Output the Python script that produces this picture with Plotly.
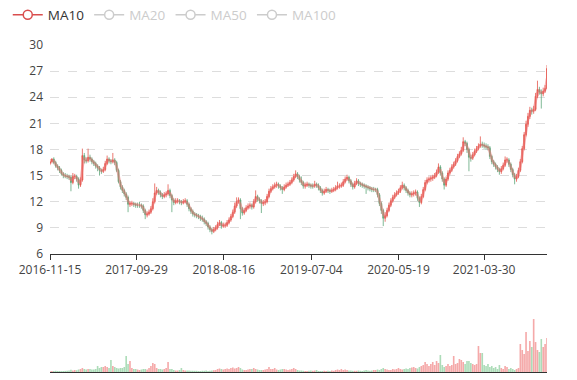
import pandas as pd
import plotly.graph_objects as go

START_DATE = "2016-11-15"
tick_labels = ["2016-11-15", "2017-09-29", "2018-08-16", "2019-07-04", "2020-05-19", "2021-03-30"]
y_ticks = [6, 9, 12, 15, 18, 21, 24, 27, 30]

close = [16.6,16.9,16.5,16.1,15.9,15.6,15.2,15.0,14.95,14.9,
         14.8,14.2,14.9,14.9,14.6,13.9,14.5,17.3,16.8,16.7,
         17.1,16.9,16.6,16.4,16.1,15.9,15.6,15.5,15.7,16.4,
         16.9,16.7,16.6,16.8,16.5,15.6,14.3,13.7,13.3,12.9,
         12.5,11.7,11.8,11.8,11.7,11.6,11.6,11.6,11.5,11.0,
         10.5,10.6,10.8,11.2,12.0,13.0,13.3,13.1,12.8,12.6,
         12.8,12.9,13.3,12.7,12.2,11.9,12.1,12.1,12.0,11.9,
         12.0,12.1,11.7,11.2,10.9,10.6,10.5,10.4,10.3,10.1,
         10.0,9.7,9.5,9.1,8.8,8.6,8.8,9.0,9.4,9.6,
         9.2,9.3,9.3,9.6,9.9,10.3,10.8,11.5,12.0,12.2,
         11.2,10.7,11.0,11.3,11.5,11.6,11.4,12.0,12.6,12.3,
         12.1,11.8,11.9,12.0,12.6,13.2,13.5,13.7,13.9,14.0,
         13.8,13.6,13.4,13.7,13.9,14.0,14.2,14.5,14.9,15.2,
         14.9,14.5,14.2,13.8,13.9,14.0,13.9,13.8,13.8,14.0,
         13.9,13.6,13.3,13.0,13.2,13.4,13.3,13.2,13.3,13.4,
         13.6,13.8,13.8,13.9,14.3,14.6,14.8,14.4,14.0,13.7,
         14.1,14.4,14.1,14.0,13.9,13.8,13.7,13.6,13.5,13.4,
         13.4,13.4,12.8,11.8,11.0,10.1,10.4,11.0,11.6,12.1,
         12.5,12.8,13.0,13.2,13.6,13.9,13.6,13.3,13.0,12.8,
         12.9,13.0,13.1,12.4,11.9,12.6,13.4,14.2,14.5,14.6,
         14.7,14.8,15.0,15.4,16.0,15.3,14.6,13.9,14.6,15.3,
         15.6,16.0,16.3,16.7,17.2,17.5,17.9,18.9,18.7,18.0,
         17.1,17.0,17.4,17.8,18.1,18.4,18.6,18.5,18.4,18.3,
         18.2,17.2,16.6,16.3,16.0,15.7,15.45,15.8,16.2,16.8,
         16.8,16.3,15.7,15.1,14.6,14.9,15.6,16.6,18.1,19.7,
         20.9,21.8,22.5,22.4,22.6,24.1,24.9,24.6,24.4,24.7,
         25.0,27.3]

open_ = [16.4,16.6,16.9,16.5,16.1,15.9,15.6,15.2,15.0,14.95,
         14.9,14.8,14.2,14.9,14.9,14.6,13.9,14.5,17.3,16.8,
         16.7,17.1,16.9,16.6,16.4,16.1,15.9,15.6,15.5,15.7,
         16.4,16.9,16.7,16.6,16.8,16.5,15.6,14.3,13.7,13.3,
         12.9,12.5,11.7,11.8,11.8,11.7,11.6,11.6,11.6,11.5,
         11.0,10.5,10.6,10.8,11.2,12.0,13.0,13.3,13.1,12.8,
         12.6,12.8,12.9,13.3,12.7,12.2,11.9,12.1,12.1,12.0,
         11.9,12.0,12.1,11.7,11.2,10.9,10.6,10.5,10.4,10.3,
         10.1,10.0,9.7,9.5,9.1,8.8,8.6,8.8,9.0,9.4,
         9.6,9.2,9.3,9.3,9.6,9.9,10.3,10.8,11.5,12.0,
         12.2,11.2,10.7,11.0,11.3,11.5,11.6,11.4,12.0,12.6,
         12.3,12.1,11.8,11.9,12.0,12.6,13.2,13.5,13.7,13.9,
         14.0,13.8,13.6,13.4,13.7,13.9,14.0,14.2,14.5,14.9,
         15.2,14.9,14.5,14.2,13.8,13.9,14.0,13.9,13.8,13.8,
         14.0,13.9,13.6,13.3,13.0,13.2,13.4,13.3,13.2,13.3,
         13.4,13.6,13.8,13.8,13.9,14.3,14.6,14.8,14.4,14.0,
         13.7,14.1,14.4,14.1,14.0,13.9,13.8,13.7,13.6,13.5,
         13.4,13.4,13.4,12.8,11.8,11.0,10.1,10.4,11.0,11.6,
         12.1,12.5,12.8,13.0,13.2,13.6,13.9,13.6,13.3,13.0,
         12.8,12.9,13.0,13.1,12.4,11.9,12.6,13.4,14.2,14.5,
         14.6,14.7,14.8,15.0,15.4,16.0,15.3,14.6,13.9,14.6,
         15.3,15.6,16.0,16.3,16.7,17.2,17.5,17.9,18.9,18.7,
         18.0,17.1,17.0,17.4,17.8,18.1,18.4,18.6,18.5,18.4,
         18.3,18.2,17.2,16.6,16.3,16.0,15.7,15.45,15.8,16.2,
         16.8,16.8,16.3,15.7,15.1,14.6,14.9,15.6,16.6,18.1,
         19.7,20.9,21.8,22.5,22.4,22.6,24.1,24.9,24.6,24.4,
         24.7,25.0]

high = [16.9,17.0,17.1,16.7,16.3,16.1,15.8,15.4,15.3,15.2,
        15.1,15.0,15.3,15.2,15.1,14.8,14.8,18.1,17.6,17.1,
        18.1,17.4,17.1,16.8,16.6,16.3,16.1,15.8,16.0,16.7,
        17.3,17.1,16.9,17.6,17.0,16.7,15.8,14.5,13.9,13.5,
        13.1,12.7,12.0,12.1,12.0,11.9,11.9,12.0,11.8,11.7,
        11.2,10.9,11.1,11.5,12.4,14.1,13.7,13.5,13.3,13.0,
        13.1,13.2,14.0,13.5,12.9,12.4,12.4,12.4,12.3,12.2,
        12.3,12.4,12.3,11.9,11.4,11.1,10.8,10.7,10.6,10.5,
        10.4,10.2,9.9,9.7,9.3,9.0,9.1,9.3,9.7,9.9,
        9.8,9.6,9.6,9.9,10.2,10.6,11.1,11.9,12.5,12.5,
        12.4,11.4,11.3,11.6,11.8,11.9,11.8,12.3,13.3,12.8,
        12.5,12.3,12.2,12.3,12.9,13.5,13.8,14.0,14.2,14.3,
        14.2,14.0,13.8,14.0,14.2,14.3,14.5,14.8,15.2,15.6,
        15.4,15.1,14.9,14.4,14.2,14.3,14.2,14.1,14.1,14.4,
        14.2,14.1,13.8,13.5,13.5,13.7,13.6,13.5,13.6,13.7,
        13.9,14.3,14.1,14.2,14.6,14.9,15.1,15.0,14.6,14.2,
        14.4,14.7,14.6,14.3,14.2,14.1,14.0,13.9,13.8,13.7,
        13.7,13.6,13.6,13.0,12.0,11.2,10.8,11.3,11.9,12.4,
        12.8,13.1,13.3,13.5,13.9,14.3,14.1,13.8,13.5,13.2,
        13.2,13.3,13.4,13.3,12.6,12.9,13.7,14.5,14.8,14.9,
        15.0,15.1,15.3,15.7,16.4,16.2,15.5,14.8,14.9,15.6,
        15.9,16.3,16.6,17.0,17.5,17.8,18.3,19.4,19.1,18.9,
        18.2,17.4,17.7,18.1,18.4,18.7,19.5,18.9,18.8,18.7,
        18.6,18.4,17.4,16.8,16.5,16.2,15.9,16.1,16.5,17.2,
        17.1,17.0,16.5,15.9,15.3,15.2,15.9,16.9,18.4,20.0,
        21.3,22.2,22.9,22.8,23.0,24.5,25.9,25.2,24.9,25.1,
        25.4,27.7]

low = [16.2,16.4,16.3,15.9,15.6,15.3,15.0,14.7,14.7,14.6,
       14.5,13.2,14.0,14.6,14.3,13.5,13.7,14.3,16.4,16.4,
       16.5,16.6,16.3,16.1,15.8,15.5,15.0,15.2,15.3,15.5,
       16.2,16.4,16.3,16.4,16.2,15.4,14.1,13.4,13.0,12.6,
       12.2,10.8,11.4,11.5,11.4,11.3,11.3,11.3,11.2,10.7,
       10.0,10.2,10.4,10.6,11.0,11.8,12.8,12.8,12.5,12.3,
       12.4,12.5,12.7,12.4,10.8,11.6,11.7,11.8,11.7,11.6,
       11.7,11.8,11.4,10.9,10.6,10.3,10.2,10.1,10.0,9.8,
       9.7,9.4,9.2,8.8,8.5,8.25,8.4,8.6,8.8,9.2,
       8.9,9.0,9.0,9.1,9.4,9.7,10.1,10.6,11.3,11.8,
       10.0,10.4,10.5,10.8,11.1,11.2,11.1,11.2,11.8,12.0,
       11.8,10.7,11.5,11.6,11.8,12.4,13.0,13.3,13.5,13.6,
       13.5,13.3,12.9,13.2,13.5,13.7,13.8,14.0,14.3,14.7,
       14.6,14.2,13.9,13.5,13.5,13.7,13.6,13.5,13.5,13.6,
       13.6,13.3,13.0,12.7,12.8,13.0,13.0,12.9,13.0,13.1,
       13.2,13.4,13.5,13.6,13.7,14.1,14.4,14.1,13.7,13.4,
       13.5,13.9,13.8,13.7,13.6,13.5,12.9,13.3,13.2,13.1,
       13.1,13.1,12.5,11.5,10.6,9.2,9.7,10.2,10.8,11.4,
       11.9,12.3,12.6,12.8,13.0,13.4,13.3,13.0,12.7,12.5,
       12.5,12.6,12.7,12.1,11.4,11.7,12.4,13.2,14.0,14.2,
       14.3,14.4,14.6,14.8,15.2,15.0,14.3,13.4,13.7,14.4,
       15.1,15.4,15.8,16.1,16.5,17.0,17.3,17.7,18.4,17.6,
       15.5,16.6,16.8,17.2,17.6,17.9,18.2,18.2,18.1,18.0,
       17.9,16.9,16.3,16.0,15.7,15.4,15.1,15.2,15.6,16.0,
       16.5,16.0,15.4,14.8,14.0,14.3,14.7,15.4,16.4,17.9,
       19.5,20.6,21.5,22.0,22.1,22.4,23.9,24.3,22.7,24.1,
       24.5,24.9]

volume = [0.8,0.9,1,1.2,1,1,0.9,1,1.1,1.3,
          1.5,2.3,1.5,2,1.8,2.5,3,4,3,2.5,
          3,3,2.5,2.5,3,6,4,5,5,6,
          5,4,12,6,5,4,3.5,4,4,5,
          16,8,11,4,3,3,2.5,2,2.5,3,
          3,2.5,4,6,9,8,4,3,3,2.5,
          3,4,10,3,3,2,1.5,1.5,2,4,
          2,1.5,1.5,1.5,1.2,1.2,1.2,1.2,1,1,
          1.2,1.2,1.5,1,1.3,1.5,1.8,2,3,3.5,
          3,2.5,3,3.5,3,4,4.5,3.5,4,5,
          4,2.5,2,2,2.5,3,3,4,3,2.5,
          2,2,2,2.5,3,5,3,3,4,2.5,
          2,2.5,3,3,2.5,2,2.5,3,4,3,
          2,1.5,1.5,1.2,1,1,1.2,1.5,1.2,1.5,
          2,1,1,1,1.2,1,1.2,1,1.5,1.2,
          2,2.5,2,3,2,2.5,2,1.5,1.5,1.2,
          1.2,1.2,1.5,1.2,1,1.5,2,1.5,1.2,1.5,
          2,2,2.5,2,3,4,3,2.5,2,2,
          3,2.5,3,4,3,2.5,3,3.5,3,4,
          4.5,5,4,3.5,5,6,7,10,8,6,
          8,10,7,11,9,17,7,5,6,8,
          6,7,16,8,9,13,12,10,8,11,
          11,9,8,7,8,26,19,19,7,6,
          8,5,6,4,5,3,7,4,3,6,
          5,3,4,3,2,3,4,28,22,18,
          40,21,31,25,53,30,22,20,33,25,
          28,34]

UP = "#e5574c"
DOWN = "#5fa77b"

dates = pd.date_range(START_DATE, periods=len(close), freq="7D")
s_close = pd.Series(close)
ma10 = s_close.rolling(2).mean()   # ~10 trading days (2 weekly points)

vol_colors = ["rgba(235,84,84,0.5)" if c >= o else "rgba(71,178,98,0.45)"
              for o, c in zip(open_, close)]

fig = go.Figure()
fig.add_trace(go.Candlestick(
    x=dates, open=open_, high=high, low=low, close=close,
    increasing=dict(line=dict(color=UP, width=0.8), fillcolor=UP),
    decreasing=dict(line=dict(color=DOWN, width=0.8), fillcolor=DOWN),
    whiskerwidth=0, showlegend=False, xaxis="x", yaxis="y", hoverinfo="skip"))
fig.add_trace(go.Scatter(
    x=dates, y=ma10, mode="lines", line=dict(color="rgba(235,110,110,0.5)", width=2.5),
    showlegend=False, xaxis="x", yaxis="y", hoverinfo="skip"))
fig.add_trace(go.Bar(
    x=dates, y=volume, marker=dict(color=vol_colors, line=dict(width=0)),
    showlegend=False, xaxis="x2", yaxis="y2", hoverinfo="skip"))

legend_items = [("MA10", "#d94e4e", "#333333"), ("MA20", "#cccccc", "#cccccc"),
                ("MA50", "#cccccc", "#cccccc"), ("MA100", "#cccccc", "#cccccc")]
for name, col, tcol in legend_items:
    fig.add_trace(go.Scatter(
        x=[None], y=[None], mode="lines+markers",
        name=f"<span style='color:{tcol}'>{name}</span>",
        line=dict(color=col, width=1.5),
        marker=dict(symbol="circle", size=9, color="white", line=dict(color=col, width=1.5)),
        xaxis="x", yaxis="y"))

# The page body adds an 8 px offset; margins compensate for it.
x_range = [dates[0], dates[-1]]
fig.update_layout(
    width=577, height=380,
    margin=dict(l=42, r=38, t=37, b=16, autoexpand=False),
    paper_bgcolor="white", plot_bgcolor="white",
    font=dict(family="Open Sans, sans-serif", size=12, color="#555"),
    bargap=0.15,
    showlegend=True,
    legend=dict(orientation="h", x=-0.085, xanchor="left", y=1.092, yanchor="middle",
                font=dict(size=13.5, color="#333"), itemwidth=30,
                itemclick=False, itemdoubleclick=False, bgcolor="rgba(0,0,0,0)"),
    xaxis=dict(type="date", domain=[0, 1], anchor="y", range=x_range,
               tickvals=tick_labels, ticktext=tick_labels,
               showgrid=False, showline=True, linecolor="#333", linewidth=1,
               ticks="outside", ticklen=5, tickcolor="#333", automargin=False,
               rangeslider=dict(visible=False), zeroline=False,
               tickfont=dict(size=12, color="#444")),
    yaxis=dict(domain=[0.361, 1], range=[6, 30], tickvals=y_ticks,
               showgrid=True, gridcolor="#dddddd", griddash="dash", gridwidth=1,
               showline=False, zeroline=False, ticks="", automargin=False,
               tickfont=dict(size=12, color="#444"), ticklabelstandoff=6),
    xaxis2=dict(type="date", domain=[0, 1], anchor="y2", range=x_range, matches="x",
                showticklabels=False, showgrid=False, showline=True, linecolor="#333",
                linewidth=1, ticks="", zeroline=False),
    yaxis2=dict(domain=[0, 0.22], range=[0, 72], showticklabels=False,
                showgrid=False, showline=False, zeroline=False),
)

fig.write_html("out.html")
